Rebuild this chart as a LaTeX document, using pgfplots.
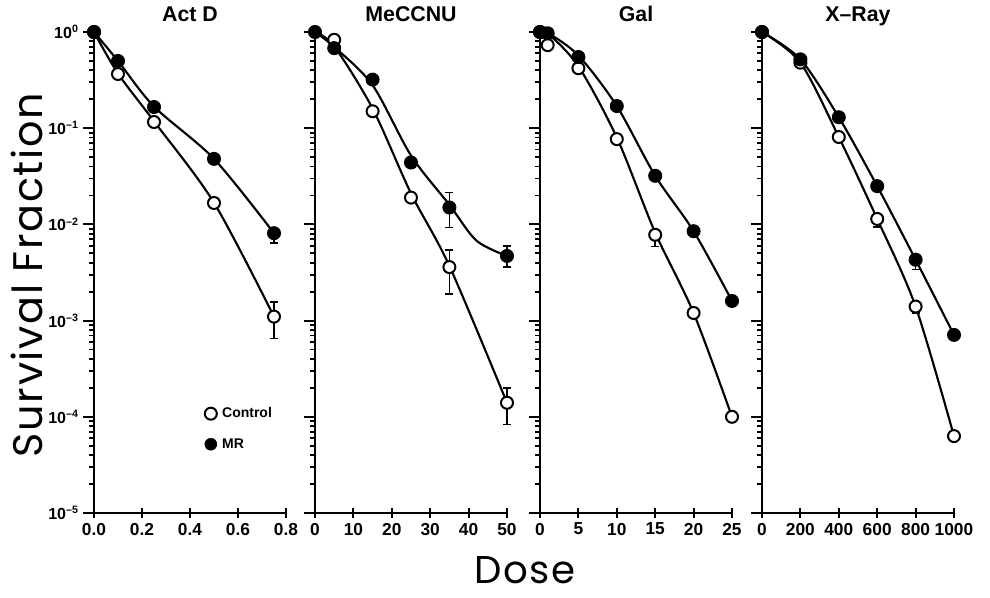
\documentclass[border=0pt]{standalone}
\usepackage{fontspec}
\setmainfont{Liberation Sans}
\newfontfamily\labfont[LetterSpace=4]{Poppins}
\usepackage{pgfplots}
\pgfplotsset{compat=1.18}

% 1 px of the reference = 0.75pt
\pgfplotsset{
  sfaxis/.style={
    scale only axis, width=144pt, height=360.75pt,
    axis x line=bottom, axis y line=left,
    axis line style={-, line width=1.8pt},
    every tick/.style={black, line width=1.4pt},
    xtick align=center, ytick align=outside,
    major tick length=8pt, minor tick length=3.5pt,
    tick label style={font=\bfseries\fontsize{13}{13}\selectfont},
    title style={font=\bfseries\fontsize{16}{16}\selectfont, at={(0.5,1)}, anchor=south, inner sep=2pt, yshift=-2.5pt, text depth=0.25em},
    clip=false,
  },
  sfcurve/.style={black, line width=1.6pt, smooth, no marks, forget plot},
  sfebar/.style={black, line width=1.3pt, mark=-, mark size=3pt, forget plot},
  sfctl/.style={only marks, mark=*, mark size=4.5pt, forget plot,
    mark options={fill=white, draw=black, line width=1.5pt}},
  sfmr/.style={only marks, mark=*, mark size=4.5pt, forget plot,
    mark options={fill=black, draw=black, line width=1.5pt}},
}

\begin{document}
\begin{tikzpicture}

% Act D
\begin{axis}[sfaxis, ymode=log, ymin=1e-5, ymax=1,
  at={(0pt,0pt)}, anchor=south west,
  xmin=0, xmax=0.8, xtick={0,0.2,0.4,0.6,0.8},
  xticklabels={0.0,0.2,0.4,0.6,0.8},
  yticklabel={\pgfmathtruncatemacro\ee{round(\tick/ln(10))}10\textsuperscript{\ifnum\ee<0 \textendash\number\numexpr-\ee\relax\else\ee\fi}},
  yticklabel style={font=\bfseries\fontsize{12}{12}\selectfont},
  title={Act D},
  legend style={at={(0.555,0.175)}, anchor=west, draw=none, fill=none,
    font=\bfseries\fontsize{10.5}{12}\selectfont, row sep=10pt,
    nodes={inner xsep=4pt}},
  legend cell align=left,
]
\addplot[sfcurve] coordinates {(0,1) (0.1,0.37) (0.25,0.118) (0.5,0.0168) (0.75,0.0011)};
\addplot[sfcurve] coordinates {(0,1) (0.1,0.50) (0.25,0.168) (0.5,0.048) (0.75,0.0081)};
\addplot[sfebar] coordinates {(0.75,0.00155) (0.75,0.00065)};
\addplot[sfebar] coordinates {(0.75,0.0081) (0.75,0.0064)};
\addplot[sfctl] coordinates {(0,1) (0.1,0.366) (0.25,0.116) (0.5,0.0167) (0.75,0.0011)};
\addplot[sfmr] coordinates {(0,1) (0.1,0.50) (0.25,0.166) (0.5,0.048) (0.75,0.0081)};
\addlegendimage{only marks, mark=*, mark size=4.5pt, mark options={fill=white, draw=black, line width=1.5pt}}
\addlegendentry{Control}
\addlegendimage{only marks, mark=*, mark size=4.5pt, mark options={fill=black, draw=black}}
\addlegendentry{MR}
\end{axis}

% MeCCNU
\begin{axis}[sfaxis, ymode=log, ymin=1e-5, ymax=1, yticklabels={},
  at={(165.75pt,0pt)}, anchor=south west,
  xmin=0, xmax=50, xtick={0,10,20,30,40,50},
  xticklabels={0,10,20,30,40,50},
  title={MeCCNU},
]
\addplot[sfcurve] coordinates {(0,1) (5,0.71) (15,0.16) (25,0.021) (35,0.0037) (50,0.00014)};
\addplot[sfcurve] coordinates {(0,1) (5,0.70) (15,0.28) (25,0.052) (35,0.016) (42,0.0068) (50,0.0047)};
\addplot[sfebar] coordinates {(35,0.0054) (35,0.0019)};
\addplot[sfebar] coordinates {(50,0.0002) (50,0.000083)};
\addplot[sfebar] coordinates {(35,0.0214) (35,0.0093)};
\addplot[sfebar] coordinates {(50,0.006) (50,0.0036)};
\addplot[sfctl] coordinates {(5,0.83) (15,0.15) (25,0.019) (35,0.0036) (50,0.00014)};
\addplot[sfmr] coordinates {(0,1) (5,0.68) (15,0.32) (25,0.044) (35,0.015) (50,0.0047)};
\end{axis}

% Gal
\begin{axis}[sfaxis, ymode=log, ymin=1e-5, ymax=1, yticklabels={},
  at={(334.5pt,0pt)}, anchor=south west,
  xmin=0, xmax=25, xtick={0,5,10,15,20,25},
  xticklabels={0,5,10,15,20,25},
  title={Gal},
]
\addplot[sfcurve] coordinates {(0,1) (1,0.97) (5,0.44) (10,0.08) (15,0.0082) (20,0.0012) (25,0.0001)};
\addplot[sfcurve] coordinates {(0,1) (1,0.98) (5,0.57) (10,0.17) (15,0.032) (20,0.0085) (25,0.0016)};
\addplot[sfebar] coordinates {(15,0.0078) (15,0.0059)};
\addplot[sfctl] coordinates {(0,1) (1,0.73) (5,0.42) (10,0.077) (15,0.0078) (20,0.0012) (25,0.0001)};
\addplot[sfmr] coordinates {(0,1) (1,0.97) (5,0.55) (10,0.17) (15,0.032) (20,0.0085) (25,0.0016)};
\end{axis}

% X-Ray
\begin{axis}[sfaxis, ymode=log, ymin=1e-5, ymax=1, yticklabels={},
  at={(501pt,0pt)}, anchor=south west,
  xmin=0, xmax=1000, xtick={0,200,400,600,800,1000},
  xticklabels={0,200,400,600,800,1000},
  title={X\textendash Ray},
]
\addplot[sfcurve] coordinates {(0,1) (200,0.48) (400,0.081) (600,0.0114) (800,0.0014) (1000,0.000063)};
\addplot[sfcurve] coordinates {(0,1) (200,0.52) (400,0.13) (600,0.025) (800,0.0043) (1000,0.00071)};
\addplot[sfebar] coordinates {(600,0.0114) (600,0.0094)};
\addplot[sfebar] coordinates {(800,0.0014) (800,0.0012)};
\addplot[sfebar] coordinates {(800,0.0043) (800,0.0034)};
\addplot[sfctl] coordinates {(0,1) (200,0.48) (400,0.081) (600,0.0114) (800,0.0014) (1000,0.000063)};
\addplot[sfmr] coordinates {(0,1) (200,0.52) (400,0.13) (600,0.025) (800,0.0043) (1000,0.00071)};
\end{axis}

\node[rotate=90, font=\labfont\fontsize{31}{31}\selectfont] at (-50pt,178.5pt) {Survival Fraction};
\node[font=\labfont\fontsize{29}{29}\selectfont] at (323pt,-43pt) {Dose};
\path (-70.5pt,-63pt) rectangle (672pt,384.75pt);
\end{tikzpicture}
\end{document}
